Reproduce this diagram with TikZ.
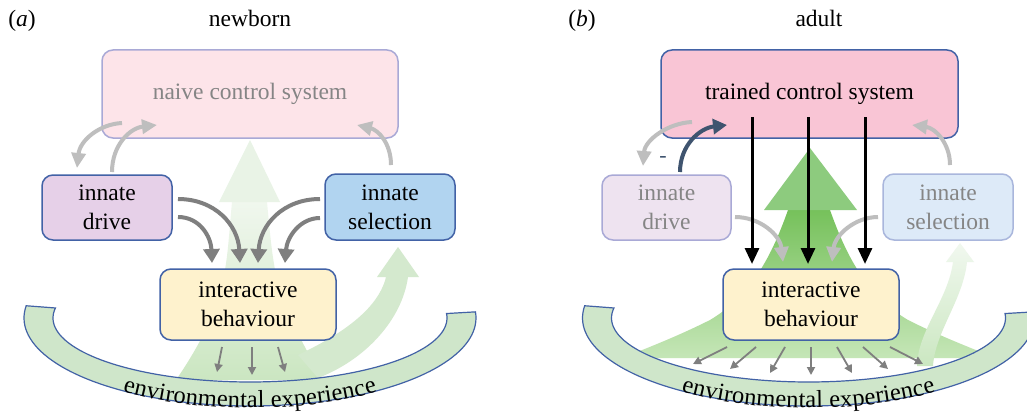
\documentclass[tikz,border=0pt]{standalone}
\usepackage{fontspec}
\setmainfont{Liberation Serif}[Ligatures=TeX]
\newfontfamily\tnr{Liberation Serif}[Ligatures=TeX]
\usetikzlibrary{arrows.meta,decorations.text}
\definecolor{bord}{HTML}{4262A6}
\definecolor{fbord}{HTML}{A9A9D6}
\definecolor{fbordb}{HTML}{A9B6DC}
\definecolor{naivefill}{HTML}{FDE4E9}
\definecolor{trainfill}{HTML}{F9C5D5}
\definecolor{drivefill}{HTML}{E6D0E8}
\definecolor{fdrivefill}{HTML}{EEE3F0}
\definecolor{selfill}{HTML}{B1D4F0}
\definecolor{fselfill}{HTML}{DDEAF8}
\definecolor{interfill}{HTML}{FEF2CD}
\definecolor{bandfill}{HTML}{CFE6CA}
\definecolor{lgray}{HTML}{BEBEBE}
\definecolor{dgray}{HTML}{7F7F7F}
\definecolor{slate}{HTML}{3F546F}
\definecolor{fadetext}{HTML}{858585}
\definecolor{gLtop}{HTML}{F0F7EE}
\definecolor{gLbot}{HTML}{CBE6C1}
\definecolor{gLhead}{HTML}{E9F3E6}
\definecolor{gLcur}{HTML}{D4E9CE}
\definecolor{gRtop}{HTML}{76C15B}
\definecolor{gRbot}{HTML}{C5E6B7}
\definecolor{gRhead}{HTML}{8DCB7E}
\definecolor{gFtop}{HTML}{F1F8EF}
\definecolor{gFbot}{HTML}{CBE7C1}
\newcommand\boxfont{\tnr\fontsize{23.5}{29}\selectfont}
\newcommand\bandfont{\tnr\fontsize{24.5}{28}\selectfont}
\tikzset{
  box/.style={draw=bord, line width=1.5pt, rounded corners=11pt, inner sep=0pt, align=center, font=\boxfont},
  ttl/.style={anchor=base, font=\boxfont},
  bandst/.style={fill=bandfill, draw=bord, line width=1.2pt},
  ltarr/.style={draw=lgray, line width=4pt, -{Triangle[width=14pt,length=15pt]}},
  dkarr/.style={draw=dgray, line width=4pt, -{Triangle[width=16pt,length=14pt]}},
  smarr/.style={draw=dgray, line width=1.8pt, -{Triangle[width=8pt,length=8pt]}},
  blarr/.style={draw=black, line width=3pt, -{Triangle[width=14pt,length=16pt]}},
  slarr/.style={draw=slate, line width=4pt, -{Triangle[width=15pt,length=14pt]}},
  bandtext/.style={decorate, decoration={text along path, text align=center, raise=-7pt,
    text={|\bandfont|environmental experience}}},
}
\begin{document}
\begin{tikzpicture}[x=1pt,y=-1pt]
\clip (0,0) rectangle (1027,412);
\fill[white] (0,0) rectangle (1027,412);

% ---------- titles
\node[ttl] (ta) at (22,27) {(\textit{a})};
\node[ttl] (tn) at (250,27) {newborn};
\node[ttl] (tb) at (582,27) {(\textit{b})};
\node[ttl] (tad) at (819,27) {adult};

% ---------- green shapes, left (faint)
\shade[top color=gLtop, bottom color=gLbot]
  (232,202) .. controls (229,235) and (228,255) .. (224,275)
  .. controls (218,310) and (200,345) .. (176,380) -- (322,380)
  .. controls (305,345) and (282,310) .. (276,275)
  .. controls (272,255) and (270,235) .. (267,202) -- cycle;
\fill[gLhead] (250,140) -- (219,202) -- (280,202) -- cycle;
\fill[gLcur] (298,355) .. controls (340,335) and (378,310) .. (386,277)
  -- (377,277) -- (398,247) -- (419,277) -- (408,277)
  .. controls (402,320) and (365,360) .. (318,378) -- cycle;

% ---------- green shapes, right
\shade[top color=gRtop, bottom color=gRbot]
  (788,210) .. controls (772,255) and (752,295) .. (710,320)
  .. controls (680,335) and (655,345) .. (622,358) -- (996,358)
  .. controls (963,345) and (938,335) .. (908,320)
  .. controls (866,295) and (846,255) .. (830,210) -- cycle;
\fill[gRhead] (810,148) -- (764,210) -- (857,210) -- cycle;
\shade[top color=gFtop, bottom color=gFbot]
  (917,366) .. controls (918,330) and (948,300) .. (953,262)
  -- (946,262) -- (960,243) -- (974,262) -- (967,262)
  .. controls (963,300) and (935,332) .. (933,366) -- cycle;

% ---------- bands
\draw[bandst] plot[domain=188:-4, samples=90] ({250+226*cos(\x)},{318+88*sin(\x)})
  -- plot[domain=-4:189, samples=90] ({250+197*cos(\x)},{318+64*sin(\x)}) -- cycle;
\draw[bandst] plot[domain=188:-4, samples=90] ({808.5+226*cos(\x)},{318+88*sin(\x)})
  -- plot[domain=-4:189, samples=90] ({808.5+197*cos(\x)},{318+64*sin(\x)}) -- cycle;
\path[bandtext] plot[domain=172:8, samples=80] ({250+212*cos(\x)},{318+83*sin(\x)});
\path[bandtext] plot[domain=172:8, samples=80] ({808.5+212*cos(\x)},{318+83*sin(\x)});

% ---------- boxes, left
\node[box, fill=naivefill, draw=fbord, text=fadetext, minimum width=296pt, minimum height=88pt] (naive) at (250,94) {naive control system};
\node[box, fill=drivefill, minimum width=130pt, minimum height=65pt] (driveL) at (107,207.5) {innate\\drive};
\node[box, fill=selfill, minimum width=130pt, minimum height=66pt] (selL) at (390,207) {innate\\selection};
\node[box, fill=interfill, minimum width=176pt, minimum height=71pt] (interL) at (248,304.5) {interactive\\behaviour};

% ---------- boxes, right
\node[box, fill=trainfill, minimum width=297pt, minimum height=88pt] (trained) at (809.5,94) {trained control system};
\node[box, fill=fdrivefill, draw=fbord, text=fadetext, minimum width=129pt, minimum height=65pt] (driveR) at (666.5,207.5) {innate\\drive};
\node[box, fill=fselfill, draw=fbordb, text=fadetext, minimum width=130pt, minimum height=66pt] (selR) at (948,207) {innate\\selection};
\node[box, fill=interfill, minimum width=176pt, minimum height=71pt] (interR) at (811,304.5) {interactive\\behaviour};

% ---------- connector end points, left
\coordinate (l1s) at (122,123); \coordinate (l1e) at (77,168);
\coordinate (l2s) at (112,172); \coordinate (l2e) at (157,125);
\coordinate (l3s) at (391,165); \coordinate (l3e) at (357,125);
\coordinate (d1s) at (178,199); \coordinate (d1e) at (240,263);
\coordinate (d2s) at (178,217); \coordinate (d2e) at (212,263);
\coordinate (d3s) at (320,199); \coordinate (d3e) at (258,263);
\coordinate (d4s) at (320,218); \coordinate (d4e) at (285,263);
\coordinate (s1s) at (222,347); \coordinate (s1e) at (217,372);
\coordinate (s2s) at (252,347); \coordinate (s2e) at (252,375);
\coordinate (s3s) at (278,347); \coordinate (s3e) at (285,372);

\draw[ltarr] (l1s) .. controls (100,124) and (80,140) .. (l1e);
\draw[ltarr] (l2s) .. controls (112,145) and (130,128) .. (l2e);
\draw[ltarr] (l3s) .. controls (391,143) and (378,130) .. (l3e);
\draw[dkarr] (d1s) .. controls (215,199) and (238,225) .. (d1e);
\draw[dkarr] (d2s) .. controls (200,217) and (211,237) .. (d2e);
\draw[dkarr] (d3s) .. controls (283,199) and (260,225) .. (d3e);
\draw[dkarr] (d4s) .. controls (300,218) and (287,237) .. (d4e);
\draw[smarr] (s1s) -- (s1e);
\draw[smarr] (s2s) -- (s2e);
\draw[smarr] (s3s) -- (s3e);

% ---------- connector end points, right
\coordinate (r1s) at (692,122); \coordinate (r1e) at (643,166);
\coordinate (rss) at (680,172); \coordinate (rse) at (727,125);
\coordinate (r3s) at (950,165); \coordinate (r3e) at (912,125);
\coordinate (r4s) at (735,217); \coordinate (r4e) at (783,262);
\coordinate (r5s) at (878,217); \coordinate (r5e) at (832,262);
\coordinate (b1s) at (752,117); \coordinate (b1e) at (752,264);
\coordinate (b2s) at (808,117); \coordinate (b2e) at (808,264);
\coordinate (b3s) at (865,117); \coordinate (b3e) at (865,264);

\draw[ltarr] (r1s) .. controls (668,123) and (645,140) .. (r1e);
\draw[slarr] (rss) .. controls (680,145) and (700,128) .. (rse);
\node[text=slate, font=\tnr\fontsize{22}{22}\selectfont, inner sep=0pt] (minus) at (663,159) {-};
\draw[ltarr] (r3s) .. controls (950,143) and (935,128) .. (r3e);
\draw[ltarr] (r4s) .. controls (760,217) and (780,235) .. (r4e);
\draw[ltarr] (r5s) .. controls (855,217) and (835,235) .. (r5e);
\draw[blarr] (b1s) -- (b1e);
\draw[blarr] (b2s) -- (b2e);
\draw[blarr] (b3s) -- (b3e);

\coordinate (t1s) at (727,347); \coordinate (t1e) at (693,364);
\coordinate (t2s) at (756,347); \coordinate (t2e) at (730,369);
\coordinate (t3s) at (785,347); \coordinate (t3e) at (770,373);
\coordinate (t4s) at (811,347); \coordinate (t4e) at (811,375);
\coordinate (t5s) at (837,347); \coordinate (t5e) at (852,373);
\coordinate (t6s) at (863,347); \coordinate (t6e) at (888,369);
\coordinate (t7s) at (890,347); \coordinate (t7e) at (923,364);
\foreach \i in {1,...,7} { \draw[smarr] (t\i s) -- (t\i e); }
\end{tikzpicture}
\end{document}
